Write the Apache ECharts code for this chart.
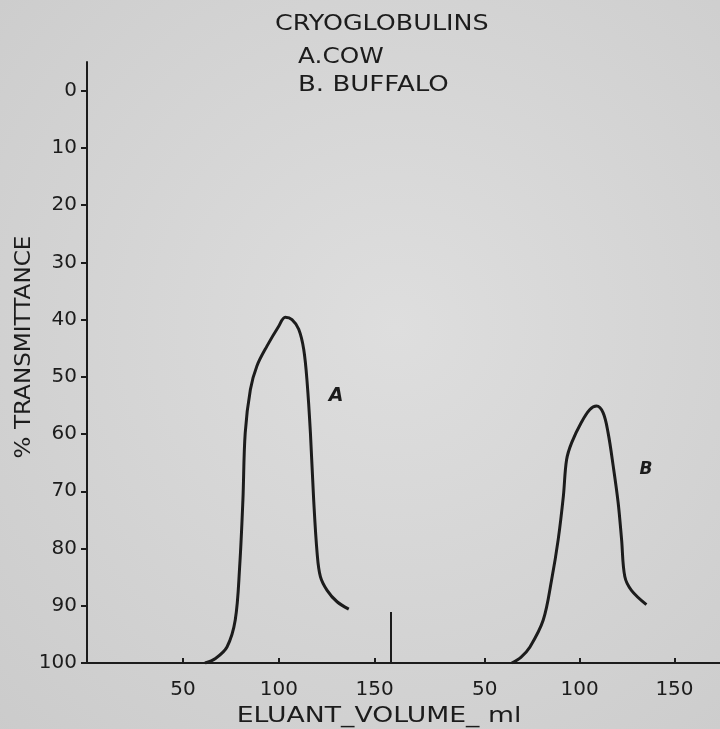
<!DOCTYPE html>
<html>
<head>
<meta charset="utf-8">
<script src="https://cdn.jsdelivr.net/npm/echarts@6/dist/echarts.min.js"></script>
<style>
	html,body{margin:0;padding:0;}
	#main{width:720px;height:729px;}
</style>
</head>
<body>
<div id="main"></div>
<script>
// curve A (cow), eluant volume in ml vs % transmittance
var volA=[61.5,67,73,77.3,79.6,81.3,82.5,85.2,88.6,93.9,99.9,103.4,106.9,110.4,113,114.8,116.5,118.2,120,121.7,125.2,130.4,136.5];
var transA=[100,99.2,97.2,92.5,83.2,71.5,59.8,52.2,48.1,44.6,41.2,39.6,40,41.7,45.2,51,59.8,71.5,80.8,84.9,87.3,89.3,90.6];
// curve B (buffalo)
var volB=[64.2,69,73.8,80.8,85.2,88.7,91.4,93.1,95.8,101,105.4,108.9,112.4,115,117.7,120.3,122.1,123.8,127.3,135.2];
var transB=[100,99,97.2,92.5,85.5,78.4,70.9,64.5,61.5,57.9,55.7,55.1,56.3,59.8,65.6,72,78.4,84.9,87.3,89.8];
var yTicks=[0,10,20,30,40,50,60,70,80,90,100];
var xTicks=[50,100,150];

function pairs(xs,ys){
	var out=[];
	for(var i=0;i<xs.length;i++){out.push([xs[i],ys[i]]);}
	return out;
}

var ink='#1c1c1c';
var fontFam='"DejaVu Sans", sans-serif';

var xAxisBase=function(idx,max){
	return {
		type:'value',gridIndex:idx,min:0,max:max,position:'bottom',
		axisLine:{show:true,onZero:false,lineStyle:{color:ink,width:2}},
		axisTick:{show:true,inside:true,length:5,customValues:xTicks,lineStyle:{color:ink,width:2}},
		axisLabel:{customValues:xTicks,color:ink,fontSize:20,fontFamily:fontFam,margin:17},
		splitLine:{show:false}
	};
};

var myChart=echarts.init(document.getElementById('main'));
var option={
	backgroundColor:{
		type:'radial',x:0.55,y:0.45,r:0.8,
		colorStops:[{offset:0,color:'#dedede'},{offset:1,color:'#cbcbcb'}]
	},
	animation:false,
	grid:[
		{left:87,top:62,width:303,bottom:66},
		{left:390,top:62,right:0,bottom:66}
	],
	xAxis:[xAxisBase(0,158),xAxisBase(1,174)],
	yAxis:[
		{
			type:'value',gridIndex:0,min:-5,max:100,inverse:true,
			axisLine:{show:true,onZero:false,lineStyle:{color:ink,width:2}},
			axisTick:{show:true,length:6,customValues:yTicks,lineStyle:{color:ink,width:2}},
			axisLabel:{customValues:yTicks,color:ink,fontSize:20,fontFamily:fontFam,margin:10,
				verticalAlign:'middle',padding:[0,0,8,0]},
			splitLine:{show:false}
		},
		{type:'value',gridIndex:1,min:-5,max:100,inverse:true,show:false}
	],
	graphic:[
		{type:'text',x:275,y:14,scaleX:1.21,style:{text:'CRYOGLOBULINS',fill:ink,font:'21px '+fontFam}},
		{type:'text',x:298,y:47,scaleX:1.18,style:{text:'A.COW',fill:ink,font:'21px '+fontFam}},
		{type:'text',x:298,y:75,scaleX:1.24,style:{text:'B. BUFFALO',fill:ink,font:'21px '+fontFam}},
		{type:'text',x:25,y:347,rotation:Math.PI/2,scaleX:1.1,style:{text:'% TRANSMITTANCE',fill:ink,font:'21px '+fontFam,align:'center',verticalAlign:'middle'}},
		{type:'text',x:379,y:717,scaleX:1.27,style:{text:'ELUANT_VOLUME_ ml',fill:ink,font:'21px '+fontFam,align:'center',verticalAlign:'middle'}},
		{type:'text',x:336,y:396,style:{text:'A',fill:ink,font:'italic bold 19px '+fontFam,align:'center',verticalAlign:'middle'}},
		{type:'text',x:646,y:470,style:{text:'B',fill:ink,font:'italic bold 17px '+fontFam,align:'center',verticalAlign:'middle'}},
		{type:'line',shape:{x1:391,y1:612,x2:391,y2:663},style:{stroke:ink,lineWidth:2}}
	],
	series:[
		{
			name:'A',type:'line',xAxisIndex:0,yAxisIndex:0,
			data:pairs(volA,transA),smooth:0.35,showSymbol:false,
			lineStyle:{color:ink,width:3}
		},
		{
			name:'B',type:'line',xAxisIndex:1,yAxisIndex:1,
			data:pairs(volB,transB),smooth:0.35,showSymbol:false,
			lineStyle:{color:ink,width:3}
		}
	]
};
myChart.setOption(option);
</script>
</body>
</html>
